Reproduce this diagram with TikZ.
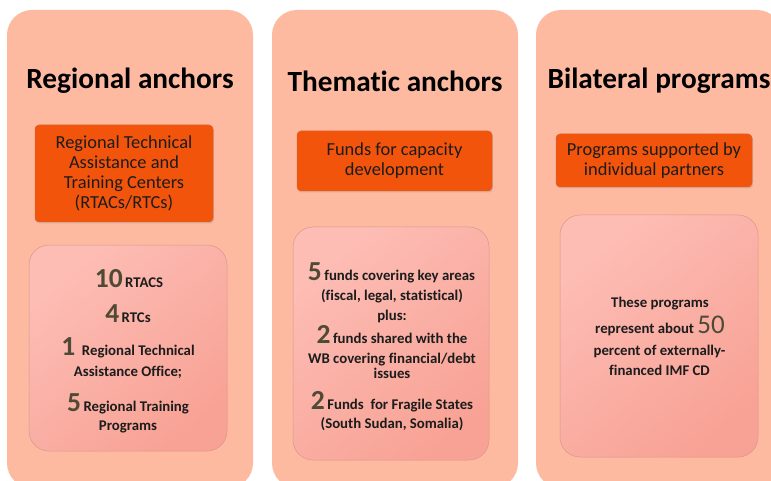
\documentclass[tikz,border=0pt]{standalone}
\usepackage{fontspec}
\setmainfont{Carlito}[Ligatures=NoCommon]
\usetikzlibrary{shadows}
\definecolor{panel}{HTML}{FDBAA1}
\definecolor{head}{HTML}{F2540C}
\definecolor{headline}{HTML}{D8642E}
\definecolor{innerA}{HTML}{FDBDB5}
\definecolor{innerB}{HTML}{F8A295}
\definecolor{innerline}{HTML}{D9968A}
\definecolor{num}{HTML}{4E4A35}
\definecolor{txt}{HTML}{1C1C1C}
\newcommand\BigNum[1]{{\color{num}\fontsize{27.5}{27}\selectfont\bfseries #1}}
\newcommand\MidNum[1]{{\color{num}\fontsize{27}{27}\selectfont\mdseries #1}}
\begin{document}
\begin{tikzpicture}[x=1pt,y=-1pt,
  panelbox/.style={fill=panel, draw=none, rounded corners=25pt, inner sep=0pt},
  titletext/.style={font=\fontsize{29.3}{32}\selectfont\bfseries, text=black, inner sep=0pt},
  headbox/.style={fill=head, draw=headline, line width=0.5pt, rounded corners=4pt, inner sep=0pt,
     align=center, text=txt, font=\fontsize{18.4}{20}\selectfont,
     drop shadow={opacity=0.25, shadow xshift=1pt, shadow yshift=-1.5pt}},
  innerbox/.style={draw=innerline, line width=0.5pt, rounded corners=20pt, inner sep=0pt,
     top color=innerA, bottom color=innerB, shading angle=40},
  txtline/.style={anchor=base, inner sep=0pt, text=txt, font=\fontsize{14.8}{16}\selectfont\bfseries}
]
\useasboundingbox (0,0) rectangle (771,481);
\clip (0,0) rectangle (771,481);
\fill[white] (0,0) rectangle (771,481);

% panels
\node[panelbox, minimum width=246, minimum height=478] (p1) at (130,249) {};
\node[panelbox, minimum width=246, minimum height=478] (p2) at (395,249) {};
\node[panelbox, minimum width=246, minimum height=478] (p3) at (659,249) {};

% titles
\node[titletext] (t1) at (130,81) {Regional anchors};
\node[titletext] (t2) at (395,81) {Thematic anchors};
\node[titletext] (t3) at (659,81) {Bilateral programs};

% header boxes
\node[headbox, minimum width=178, minimum height=97] (h1) at (124,173.5)
  {Regional Technical\\Assistance and\\Training Centers\\(RTACs/RTCs)};
\node[headbox, minimum width=195, minimum height=60] (h2) at (394.5,161)
  {Funds for capacity\\development};
\node[headbox, minimum width=196, minimum height=53] (h3) at (654,160.5)
  {Programs supported by\\individual partners};

% inner boxes
\node[innerbox, minimum width=198, minimum height=206] (b1) at (128,348) {};
\node[innerbox, minimum width=196, minimum height=233] (b2) at (391,343.5) {};
\node[innerbox, minimum width=198, minimum height=242] (b3) at (659,336) {};

% box 1 text
\node[txtline] (l11) at (129,287) {\BigNum{10}\,RTACS};
\node[txtline] (l12) at (128,322) {\BigNum{4}\,RTCs};
\node[txtline] (l13) at (128,355) {\BigNum{1}\ \ Regional Technical};
\node[txtline] (l14) at (128,376) {Assistance Office;};
\node[txtline] (l15) at (128,411) {\BigNum{5}\,Regional Training};
\node[txtline] (l16) at (128,430) {Programs};

% box 2 text
\node[txtline] (l21) at (391.5,280) {\BigNum{5}\,funds covering key areas};
\node[txtline] (l22) at (392,300) {(fiscal, legal, statistical)};
\node[txtline] (l23) at (392,320) {plus:};
\node[txtline] (l24) at (392,343) {\BigNum{2}\,funds shared with the};
\node[txtline] (l25) at (392,363) {WB covering financial/debt};
\node[txtline] (l26) at (392,378) {issues};
\node[txtline] (l27) at (392,409) {\BigNum{2}\,Funds\ \ for Fragile States};
\node[txtline] (l28) at (392,428) {(South Sudan, Somalia)};

% box 3 text
\node[txtline] (l31) at (660,307) {These programs};
\node[txtline] (l32) at (660,333) {represent about \MidNum{50}};
\node[txtline] (l33) at (659.5,355) {percent of externally-};
\node[txtline] (l34) at (659.5,375) {financed IMF CD};
\end{tikzpicture}
\end{document}
